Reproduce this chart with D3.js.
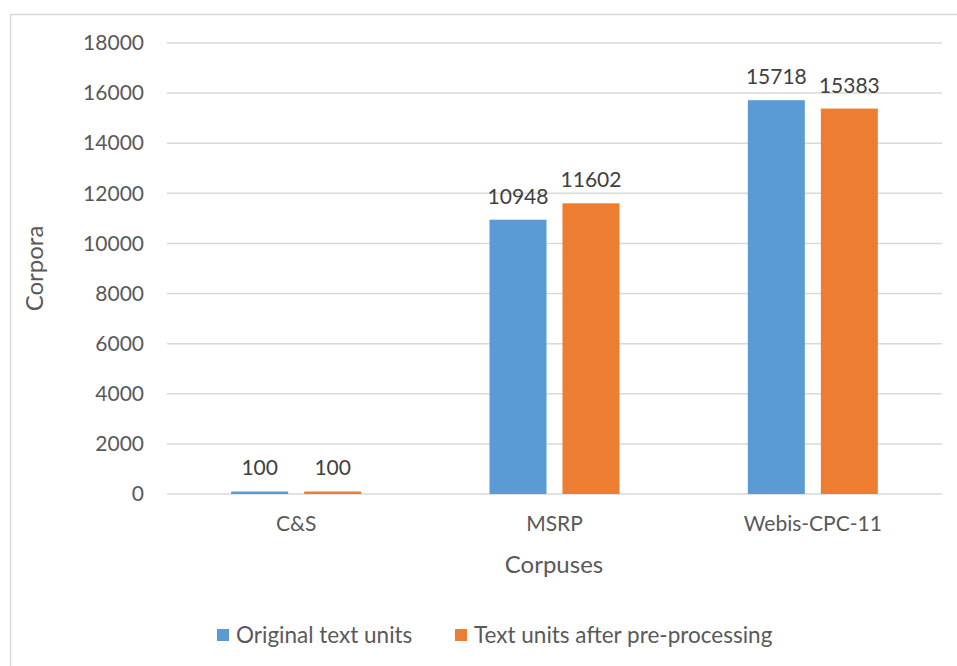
<!DOCTYPE html>
<html><head><meta charset="utf-8">
<script src="https://cdn.jsdelivr.net/npm/d3@7"></script>
<style>body{margin:0;background:#fff;} text{font-family:Lato,"Open Sans",sans-serif;}</style>
</head><body><svg id="c" width="957" height="666"></svg>
<script>
const categories = ["C&S","MSRP","Webis-CPC-11"];
const seriesNames = ["Original text units","Text units after pre-processing"];
const original = [100,10948,15718];
const processed = [100,11602,15383];
const yTicks = [0,2000,4000,6000,8000,10000,12000,14000,16000,18000];
const colors = ["#5B9BD5","#ED7D31"];

const svg = d3.select("#c");
svg.append("rect").attr("x",10.5).attr("y",14.5).attr("width",960).attr("height",700)
  .attr("fill","#fff").attr("stroke","#D9D9D9").attr("stroke-width",1.5);

const L=167,R=942,T=43,B=494;
const x = d3.scaleBand().domain(categories).range([L,R]).paddingInner(0).paddingOuter(0);
const y = d3.scaleLinear().domain([0,18000]).range([B,T]);

// gridlines
svg.append("g").selectAll("line").data(yTicks).join("line")
  .attr("x1",L).attr("x2",R).attr("y1",d=>y(d)).attr("y2",d=>y(d))
  .attr("stroke","#D9D9D9").attr("stroke-width",1.5);

// y axis labels
const ya = svg.append("g").attr("transform",`translate(${L},0)`)
  .call(d3.axisLeft(y).tickValues(yTicks).tickSize(0).tickPadding(23).tickFormat(d3.format("d")));
ya.select(".domain").remove();
ya.selectAll("text").attr("font-size",21).attr("fill","#595959").style("font-family","Lato");

// x axis labels
const xa = svg.append("g").attr("transform",`translate(0,${B})`)
  .call(d3.axisBottom(x).tickSize(0).tickPadding(22));
xa.select(".domain").remove();
xa.selectAll("text").attr("font-size",21).attr("fill","#595959").style("font-family","Lato");

const data = categories.map((c,i)=>({c, vals:[original[i],processed[i]]}));
const bw = 57, gap = 16, off = (x.bandwidth()-2*bw-gap)/2;
const g = svg.append("g");
data.forEach(d=>{
  d.vals.forEach((v,j)=>{
    const bx = x(d.c)+off+j*(bw+gap);
    g.append("rect").attr("x",bx).attr("y",y(v)).attr("width",bw).attr("height",B-y(v)).attr("fill",colors[j]);
    g.append("text").attr("x",bx+bw/2).attr("y",y(v)-16).attr("text-anchor","middle")
      .attr("font-size",21).attr("fill","#404040").text(v);
  });
});

// axis titles
svg.append("text").attr("transform",`translate(43,${(T+B)/2}) rotate(-90)`).attr("text-anchor","middle")
  .attr("font-size",24).attr("fill","#595959").text("Corpora");
svg.append("text").attr("x",554).attr("y",573).attr("text-anchor","middle")
  .attr("font-size",24).attr("fill","#595959").text("Corpuses");

// legend
const legX=[217,455];
seriesNames.forEach((n,j)=>{
  svg.append("rect").attr("x",legX[j]).attr("y",629).attr("width",12).attr("height",12).attr("fill",colors[j]);
  svg.append("text").attr("x",legX[j]+19).attr("y",643).attr("font-size",22.5).attr("fill","#595959").text(n);
});
</script></body></html>
